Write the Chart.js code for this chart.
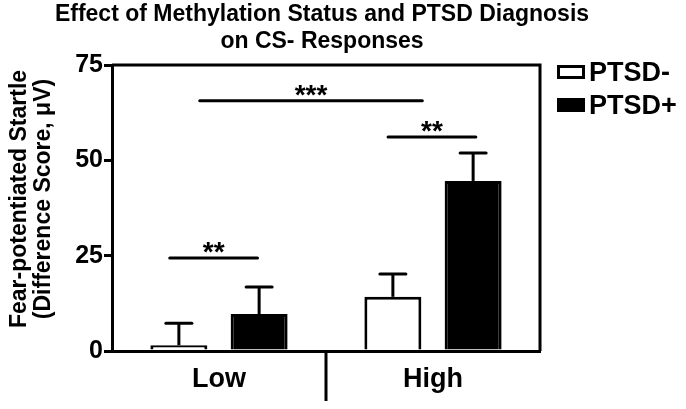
<!DOCTYPE html>
<html lang="en">
<head>
  <meta charset="UTF-8">
  <title>CS- Responses</title>
  <script src="https://cdn.jsdelivr.net/npm/chart.js@4"></script>
  <style>
    body { margin: 0; background: #fff; }
  </style>
</head>
<body>

<canvas id="barChart" width="686" height="409"></canvas>

<script>
  // data
  const categories = ['Low', 'High'];
  const ptsdNeg = [1.5, 14.2];
  const ptsdPos = [9.7, 44.6];
  const ptsdNegErr = [5.8, 6.0];
  const ptsdPosErr = [7.1, 7.3];
  const yTicks = [0, 25, 50, 75];

  // significance brackets (x in category units)
  const sigText = ['**', '***', '**'];
  const sigFrom = [-0.23, -0.09, 0.79];
  const sigTo = [0.18, 0.95, 1.2];
  const sigLevel = [24.4, 65.6, 56.1];

  const titleLines = ['Effect of Methylation Status and PTSD Diagnosis', 'on CS- Responses'];
  const yTitleLines = ['Fear-potentiated Startle', '(Difference Score, \u03bcV)'];
  const legendLabels = ['PTSD-', 'PTSD+'];

  const FONT = '"Liberation Sans", Arial, sans-serif';

  // draws title, legend, box, divider, error bars and significance marks
  const extras = {
    id: 'extras',
    afterDatasetsDraw(chart) {
      const ctx = chart.ctx;
      const area = chart.chartArea;
      const x = chart.scales.x;
      const y = chart.scales.y;
      ctx.save();
      ctx.strokeStyle = '#000';
      ctx.fillStyle = '#000';
      ctx.lineWidth = 3;
      ctx.lineCap = 'butt';

      // error bars
      const errs = [ptsdNegErr, ptsdPosErr];
      const vals = [ptsdNeg, ptsdPos];
      chart.data.datasets.forEach((ds, d) => {
        const meta = chart.getDatasetMeta(d);
        meta.data.forEach((bar, i) => {
          const top = y.getPixelForValue(vals[d][i] + errs[d][i]);
          ctx.beginPath();
          ctx.moveTo(bar.x, bar.y);
          ctx.lineTo(bar.x, top);
          ctx.stroke();
          ctx.beginPath();
          ctx.lineCap = 'round';
          ctx.moveTo(bar.x - 13, top);
          ctx.lineTo(bar.x + 13, top);
          ctx.stroke();
          ctx.lineCap = 'butt';
        });
      });

      // top and right border of the box
      ctx.beginPath();
      ctx.moveTo(area.left, area.top);
      ctx.lineTo(area.right, area.top);
      ctx.lineTo(area.right, area.bottom);
      ctx.stroke();

      // divider between categories
      const mid = (x.getPixelForValue(0) + x.getPixelForValue(1)) / 2;
      ctx.beginPath();
      ctx.moveTo(mid, area.bottom);
      ctx.lineTo(mid, area.bottom + 50);
      ctx.stroke();

      // significance lines
      const step = x.getPixelForValue(1) - x.getPixelForValue(0);
      const x0 = x.getPixelForValue(0);
      ctx.textAlign = 'center';
      ctx.textBaseline = 'alphabetic';
      ctx.font = 'bold 28px ' + FONT;
      sigText.forEach((t, i) => {
        const xa = x0 + sigFrom[i] * step;
        const xb = x0 + sigTo[i] * step;
        const py = y.getPixelForValue(sigLevel[i]);
        ctx.beginPath();
        ctx.lineCap = 'round';
        ctx.moveTo(xa, py);
        ctx.lineTo(xb, py);
        ctx.stroke();
        ctx.fillText(t, (xa + xb) / 2, py + 3);
      });

      // title
      ctx.font = 'bold 23px ' + FONT;
      ctx.fillText(titleLines[0], 322, 21);
      ctx.fillText(titleLines[1], 322, 48);

      // y axis title
      ctx.save();
      ctx.translate(0, 199);
      ctx.rotate(-Math.PI / 2);
      ctx.font = 'bold 23px ' + FONT;
      ctx.fillText(yTitleLines[0], 0, 26);
      ctx.fillText(yTitleLines[1], 0, 50);
      ctx.restore();

      // legend
      ctx.textAlign = 'left';
      ctx.font = 'bold 27px ' + FONT;
      ctx.lineWidth = 3;
      ctx.strokeRect(558.5, 66.5, 25, 11);
      ctx.fillRect(557, 98, 28, 14);
      ctx.fillText(legendLabels[0], 589, 81);
      ctx.fillText(legendLabels[1], 589, 114);

      ctx.restore();
    }
  };

  const ctx = document.getElementById('barChart').getContext('2d');

  const config = {
    type: 'bar',
    data: {
      labels: categories,
      datasets: [{
        label: legendLabels[0],
        data: ptsdNeg,
        backgroundColor: '#fff',
        borderColor: '#000',
        borderWidth: 3,
      }, {
        label: legendLabels[1],
        data: ptsdPos,
        backgroundColor: '#000',
        borderColor: '#000',
        borderWidth: 3,
      }],
    },
    options: {
      responsive: false,
      animation: false,
      categoryPercentage: 0.75,
      barPercentage: 0.71,
      layout: {
        padding: { top: 65, right: 146, bottom: 0, left: 0 },
      },
      plugins: {
        legend: { display: false },
        tooltip: { enabled: false },
        title: { display: false },
      },
      scales: {
        x: {
          grid: { display: false, drawTicks: false },
          border: { color: '#000', width: 3 },
          ticks: {
            color: '#000',
            padding: 12,
            font: { family: FONT, size: 27, weight: 'bold' },
          },
          afterFit(scale) { scale.height = 58; },
        },
        y: {
          min: 0,
          max: 75,
          afterBuildTicks(scale) {
            scale.ticks = yTicks.map(v => ({ value: v }));
          },
          grid: {
            drawOnChartArea: false,
            tickLength: 8,
            lineWidth: 3,
            color: '#000',
          },
          border: { color: '#000', width: 3 },
          ticks: {
            color: '#000',
            padding: 1,
            font: { family: FONT, size: 25, weight: 'bold' },
          },
          afterFit(scale) { scale.width = 112; },
        },
      },
    },
    plugins: [extras],
  };

  new Chart(ctx, config);
</script>

</body>
</html>
